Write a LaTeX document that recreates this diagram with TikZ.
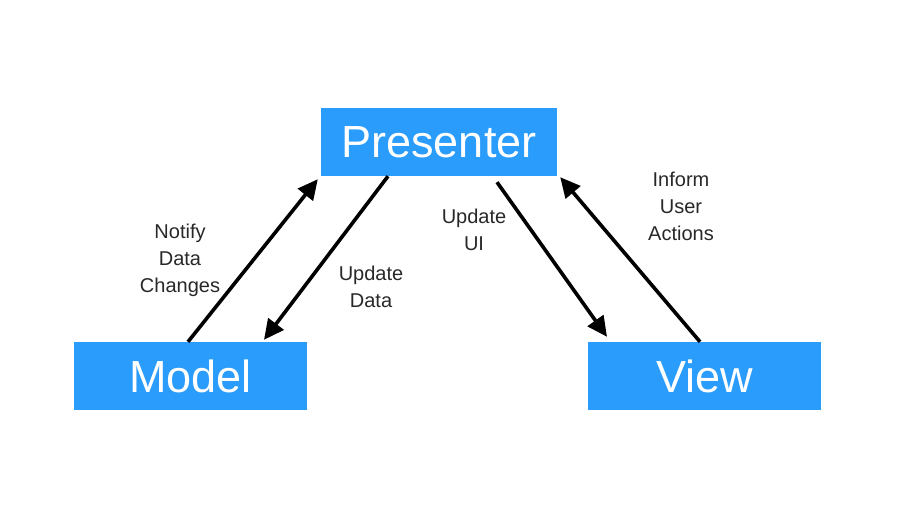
\documentclass[tikz,border=0pt]{standalone}
\usepackage{fontspec}
\setmainfont{Liberation Sans}
\usetikzlibrary{arrows.meta}
\definecolor{boxblue}{RGB}{42,156,252}
\definecolor{labelgray}{RGB}{40,40,40}
\tikzset{
  box/.style={fill=boxblue, text=white, font=\fontsize{45}{50}\selectfont, minimum height=68pt, inner sep=0pt},
  lbl/.style={text=labelgray, font=\fontsize{20}{27}\selectfont, align=center, inner sep=0pt},
  conn/.style={draw=black, line width=3.6pt, -{Triangle[length=20pt,width=19pt]}}
}
\begin{document}
\begin{tikzpicture}[x=1pt,y=-1pt]
\useasboundingbox (0,0) rectangle (900,506);
\node[box, minimum width=236pt] (presenter) at (439,142) {Presenter};
\node[box, minimum width=233pt] (model) at (190.5,376) {Model};
\node[box, minimum width=233pt] (view) at (704.5,376) {View};

\draw[conn] ([xshift=-2.5pt]model.north) -- ([xshift=-3pt,yshift=-3pt]presenter.south west);
\draw[conn] ([xshift=-51pt]presenter.south) -- ([xshift=73.5pt,yshift=2pt]model.north);
\draw[conn] ([xshift=58pt,yshift=-6pt]presenter.south) -- ([xshift=-97.5pt,yshift=5pt]view.north);
\draw[conn] ([xshift=-4.5pt]view.north) -- ([xshift=3pt,yshift=-1pt]presenter.south east);

\node[lbl] (l1) at (180,260) {Notify\\Data\\Changes};
\node[lbl] (l2) at (371,287) {Update\\Data};
\node[lbl] (l3) at (474,230) {Update\\UI};
\node[lbl] (l4) at (681,206) {Inform\\User\\Actions};
\end{tikzpicture}
\end{document}
